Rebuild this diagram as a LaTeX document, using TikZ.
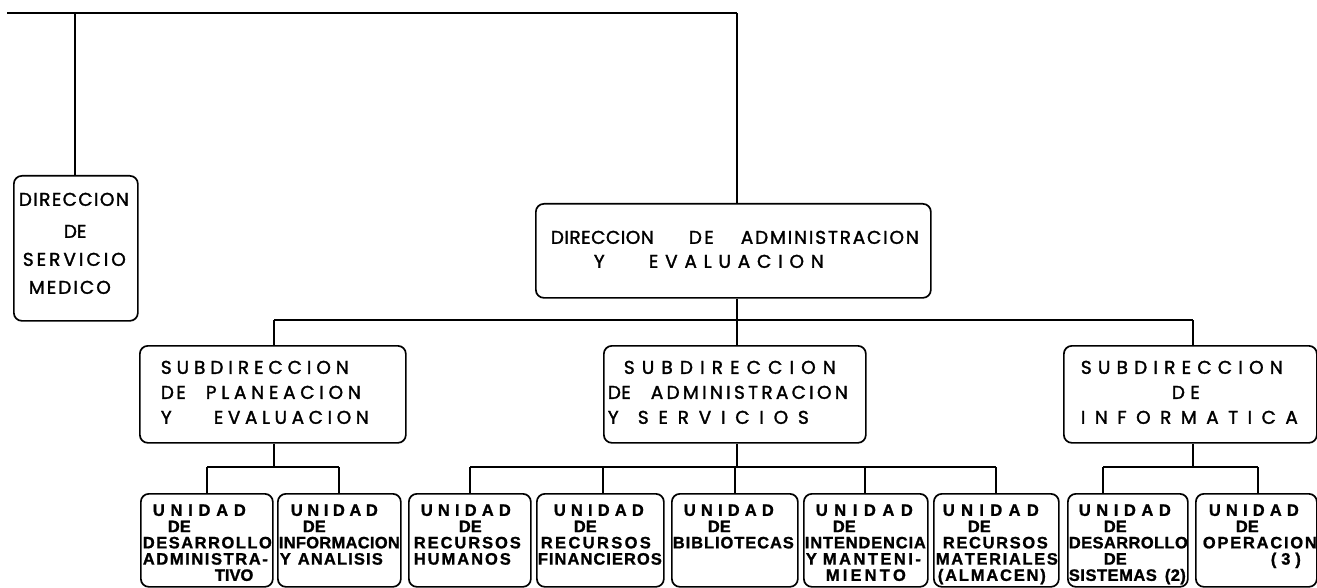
\documentclass[tikz,border=0pt]{standalone}
\usepackage{fontspec}
\setmainfont{Poppins}
\newfontfamily\upfamily{Poppins}[FakeBold=1.6]
\newfontfamily\unitfamily{Liberation Sans}[BoldFeatures={FakeBold=1.2}]
\makeatletter
\newcommand\sprd[2]{\makebox[#1][s]{\sprd@first#2\relax}}
\def\sprd@first#1{\ifx#1\relax\else#1\expandafter\sprd@rest\fi}
\def\sprd@rest#1{\ifx#1\relax\else\hfil#1\expandafter\sprd@rest\fi}
\makeatother
% word at offset #1 (pt, from box left), spread to width #2
\newcommand\Wpos[3]{\makebox[0pt][l]{\hspace*{#1pt}\sprd{#2pt}{#3}}}
% word at offset #1 with natural width
\newcommand\Npos[2]{\makebox[0pt][l]{\hspace*{#1pt}#2}}
\newcommand\unitfont{\unitfamily\bfseries\fontsize{16.5}{16.25}\selectfont}
\begin{document}
\begin{tikzpicture}[x=1pt,y=-1pt,
  box/.style={draw,line width=1.7pt,rounded corners=8pt,anchor=north west,
    inner sep=0pt,align=left},
  unit/.style={box,text height=22pt,text depth=71pt,font=\unitfont},
  sub/.style={box,text height=28pt,text depth=69pt,font=\upfamily\fontsize{18.5}{25}\selectfont},
  conn/.style={line width=1.1pt},
  topline/.style={line width=1.9pt}]
\fill[white] (0,0) rectangle (1317,588);
\useasboundingbox (0,0) rectangle (1317,588);

% ---- top level boxes
\node[box,text width=124pt,text height=30pt,text depth=115pt,
  font=\upfamily\fontsize{18.5}{28}\selectfont] (S) at (13,175)
  {\Wpos{5}{110}{DIRECCION}\\[4pt]\Wpos{50}{22}{DE}\\\Wpos{9}{103}{SERVICIO}\\\Wpos{15}{82}{MEDICO}};

\node[box,text width=395pt,text height=40pt,text depth=54pt,
  font=\upfamily\fontsize{18.5}{24}\selectfont] (D) at (535,203)
  {\Wpos{15}{103}{DIRECCION}\Wpos{153}{25}{DE}\Wpos{205}{178}{ADMINISTRACION}\\
   \Npos{58}{Y}\Wpos{113}{175}{EVALUACION}};

% ---- subdirecciones
\node[sub,text width=266pt] (P) at (139,345)
  {\Wpos{21}{188}{SUBDIRECCION}\\
   \Wpos{21}{25}{DE}\Wpos{66}{155}{PLANEACION}\\
   \Npos{21}{Y}\Wpos{74}{155}{EVALUACION}};
\node[sub,text width=262pt] (A) at (603,345)
  {\Wpos{20}{212}{SUBDIRECCION}\\
   \Wpos{4}{23}{DE}\Wpos{47}{197}{ADMINISTRACION}\\
   \Npos{4}{Y}\Wpos{34}{171}{SERVICIOS}};
\node[sub,text width=253pt] (I) at (1063,345)
  {\Wpos{17}{202}{SUBDIRECCION}\\
   \Wpos{108}{28}{DE}\\
   \Wpos{17}{217}{INFORMATICA}};

% ---- unidades
\node[unit,text width=132pt] (U1) at (140,493)
  {\Wpos{12}{93}{UNIDAD}\\\Npos{27}{DE}\\\Wpos{2}{129}{DESARROLLO}\\
   \Wpos{2}{125}{ADMINISTRA-}\\\Npos{74}{TIVO}};
\node[unit,text width=123pt] (U2) at (277,493)
  {\Wpos{13}{87}{UNIDAD}\\\Npos{25}{DE}\\\Wpos{1}{121}{INFORMACION}\\
   \Npos{2}{Y}\Wpos{20}{85}{ANALISIS}};
\node[unit,text width=122pt] (U3) at (408,493)
  {\Wpos{12}{90}{UNIDAD}\\\Npos{50}{DE}\\\Wpos{5}{107}{RECURSOS}\\
   \Wpos{5}{97}{HUMANOS}};
\node[unit,text width=127pt] (U4) at (536,493)
  {\Wpos{17}{90}{UNIDAD}\\\Npos{37}{DE}\\\Wpos{4}{110}{RECURSOS}\\
   \Wpos{1}{124}{FINANCIEROS}};
\node[unit,text width=126pt] (U5) at (671,493)
  {\Wpos{12}{90}{UNIDAD}\\\Npos{36}{DE}\\\Wpos{1}{121}{BIBLIOTECAS}};
\node[unit,text width=124pt] (U6) at (803,493)
  {\Wpos{12}{97}{UNIDAD}\\\Npos{29}{DE}\\\Wpos{1}{121}{INTENDENCIA}\\
   \Npos{2}{Y}\Wpos{19}{98}{MANTENI-}\\\Wpos{22}{80}{MIENTO}};
\node[unit,text width=125pt] (U7) at (933,493)
  {\Wpos{9}{96}{UNIDAD}\\\Npos{34}{DE}\\\Wpos{9}{105}{RECURSOS}\\
   \Wpos{2}{122}{MATERIALES}\\\Wpos{4}{108}{(ALMACEN)}};
\node[unit,text width=120pt] (U8) at (1067,493)
  {\Wpos{11}{92}{UNIDAD}\\\Npos{36}{DE}\\\Wpos{1}{119}{DESARROLLO}\\
   \Npos{36}{DE}\\\Wpos{1}{88}{SISTEMAS}\Wpos{97}{21}{(2)}};
\node[unit,text width=121pt] (U9) at (1195,493)
  {\Wpos{13}{90}{UNIDAD}\\\Npos{40}{DE}\\\Wpos{7}{114}{OPERACION}\\
   \Wpos{75}{30}{(3)}};

% ---- connectors
\coordinate (t1) at (7,13);
\coordinate (tS) at (75,13);
\coordinate (t2) at (737,13);
\draw[topline] (t1) -- (t2);
\draw[conn] (tS) -- (tS |- S.north);
\draw[conn] (t2) -- (t2 |- D.north);

\coordinate (h1) at (274,320);
\coordinate (h2) at (737,320);
\coordinate (h3) at (1193,320);
\draw[conn] (t2 |- D.south) -- (h2) -- (h2 |- A.north);
\draw[conn] (h1) -- (h3);
\draw[conn] (h1) -- (h1 |- P.north);
\draw[conn] (h3) -- (h3 |- I.north);

% planeacion
\coordinate (p0) at (274,467);
\coordinate (p1) at (207,467);
\coordinate (p2) at (339,467);
\draw[conn] (h1 |- P.south) -- (p0);
\draw[conn] (p1) -- (p2);
\draw[conn] (p1) -- (p1 |- U1.north);
\draw[conn] (p2) -- (p2 |- U2.north);

% administracion y servicios
\coordinate (a0) at (737,467);
\coordinate (a1) at (470,467);
\coordinate (a2) at (603,467);
\coordinate (a3) at (735,467);
\coordinate (a4) at (865,467);
\coordinate (a5) at (996,467);
\draw[conn] (h2 |- A.south) -- (a0);
\draw[conn] (a1) -- (a5);
\draw[conn] (a1) -- (a1 |- U3.north);
\draw[conn] (a2) -- (a2 |- U4.north);
\draw[conn] (a3) -- (a3 |- U5.north);
\draw[conn] (a4) -- (a4 |- U6.north);
\draw[conn] (a5) -- (a5 |- U7.north);

% informatica
\coordinate (i0) at (1193,467);
\coordinate (i1) at (1103,467);
\coordinate (i2) at (1258,467);
\draw[conn] (h3 |- I.south) -- (i0);
\draw[conn] (i1) -- (i2);
\draw[conn] (i1) -- (i1 |- U8.north);
\draw[conn] (i2) -- (i2 |- U9.north);
\end{tikzpicture}
\end{document}
